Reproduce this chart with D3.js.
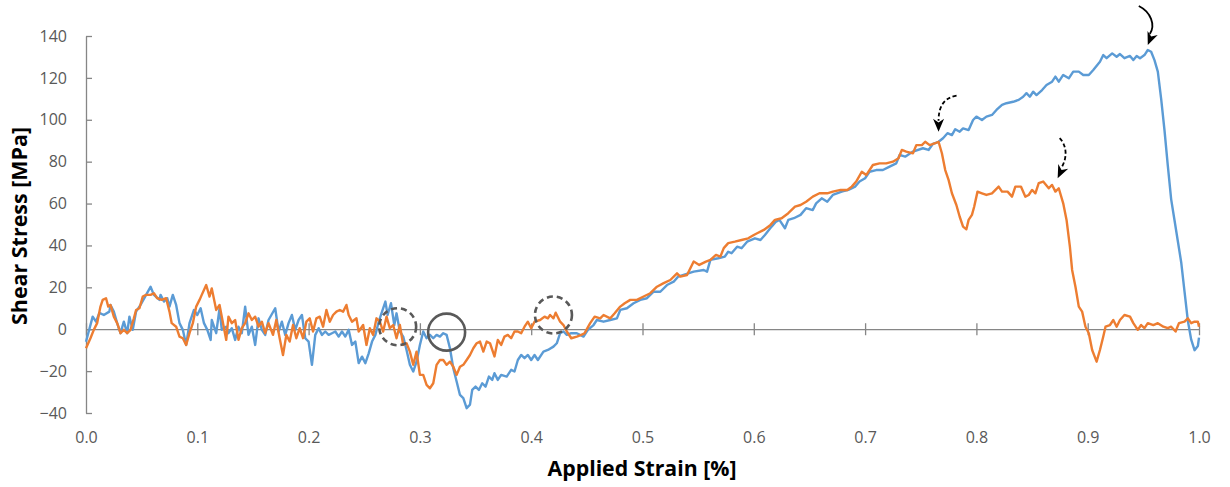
<!DOCTYPE html>
<html><head><meta charset="utf-8">
<script src="https://cdn.jsdelivr.net/npm/d3@7"></script>
<style>body{margin:0;background:#fff}</style>
</head><body>
<script>
// ---------- data ----------
const xTickValues = [0,0.1,0.2,0.3,0.4,0.5,0.6,0.7,0.8,0.9,1.0];
const yTickValues = [-40,-20,0,20,40,60,80,100,120,140];
const xTitle = "Applied Strain [%]";
const yTitle = "Shear Stress [MPa]";

const blueStrain = [0.000,0.006,0.009,0.012,0.016,0.021,0.022,0.025,0.028,0.031,0.034,0.037,0.039,0.042,0.045,0.049,0.054,0.058,0.061,0.066,0.067,0.070,0.073,0.075,0.078,0.081,0.084,0.087,0.090,0.093,0.097,0.100,0.103,0.106,0.109,0.112,0.113,0.117,0.120,0.122,0.126,0.128,0.131,0.134,0.137,0.140,0.143,0.146,0.149,0.152,0.155,0.158,0.161,0.164,0.170,0.173,0.176,0.179,0.182,0.185,0.188,0.191,0.194,0.197,0.200,0.203,0.206,0.209,0.212,0.215,0.218,0.221,0.224,0.227,0.230,0.233,0.236,0.239,0.242,0.245,0.248,0.251,0.254,0.257,0.260,0.263,0.266,0.269,0.271,0.274,0.277,0.279,0.282,0.285,0.288,0.291,0.294,0.297,0.300,0.303,0.306,0.309,0.312,0.315,0.318,0.321,0.324,0.327,0.330,0.333,0.336,0.339,0.342,0.345,0.347,0.350,0.353,0.356,0.359,0.362,0.365,0.367,0.370,0.373,0.378,0.382,0.385,0.388,0.391,0.394,0.397,0.400,0.403,0.406,0.411,0.415,0.420,0.423,0.426,0.429,0.432,0.436,0.441,0.447,0.451,0.456,0.459,0.465,0.471,0.477,0.480,0.486,0.492,0.498,0.504,0.510,0.516,0.522,0.528,0.532,0.546,0.555,0.558,0.561,0.568,0.574,0.577,0.580,0.585,0.589,0.594,0.601,0.606,0.610,0.616,0.620,0.623,0.628,0.631,0.636,0.642,0.647,0.653,0.656,0.661,0.666,0.671,0.679,0.685,0.691,0.695,0.700,0.704,0.710,0.716,0.722,0.728,0.731,0.736,0.743,0.752,0.757,0.761,0.766,0.770,0.774,0.778,0.781,0.785,0.788,0.793,0.797,0.800,0.805,0.809,0.814,0.818,0.823,0.827,0.833,0.838,0.842,0.845,0.848,0.851,0.854,0.859,0.863,0.868,0.871,0.874,0.878,0.883,0.887,0.892,0.896,0.901,0.905,0.911,0.914,0.917,0.922,0.926,0.929,0.933,0.938,0.941,0.944,0.947,0.951,0.954,0.957,0.960,0.963,0.966,0.969,0.972,0.975,0.978,0.981,0.984,0.987,0.990,0.993,0.996,0.999,1.000];
const blueStress = [-6,6,3.6,7.8,6.8,8.4,11.6,8.4,2.9,-1.9,3.6,-1.9,6,-0.3,8.4,11.6,16.4,20.3,16.4,14,16.4,13.2,14.8,10.8,16.4,11.6,2.9,-0.3,-7.5,2.9,9.2,6.8,10,2.9,-0.3,-5.1,4.4,-1.9,10,-0.3,1.2,-1.9,0.5,-5.1,1.2,-1.9,10.8,-2.7,1.2,-7.5,5.2,-0.3,-2.7,4.4,10,-1.1,3.6,-2.7,2.9,6.8,-0.3,4.4,6.8,-4.3,-5.9,-17,-2.7,0.5,-2.7,-1.1,-2.7,-1.9,-1.1,-3.5,-1.1,-3.5,-0.3,-7.5,-5.9,-16.2,-13.1,-16.2,-11.5,-5.9,-2.7,3.6,8.4,13.2,6.8,12.4,2,7.6,-1.1,-3.5,-9.9,-17,-20.2,-15.5,-7.5,-1.1,-4.3,-2.7,-4.3,-2.7,-3.5,-1.9,-2.7,-9.1,-18.6,-25,-31.4,-32.9,-37.7,-36,-29,-27.4,-29,-25.8,-27.4,-22.6,-24.2,-21,-24.2,-21.8,-22.6,-19.4,-20.2,-14.7,-12.3,-13.8,-12.3,-14.7,-12.3,-14.7,-10.7,-9.9,-8.3,-6.7,-1.9,-1.1,-2.7,-1.9,-1.9,-3.5,-0.3,2,4.4,3.6,4.4,5.2,9.2,10,12.4,14,14.8,17.9,17.9,21.1,22.7,25.1,27.5,28.3,27.5,33.1,33.9,34.7,37,36.3,39.4,38.7,41.8,43.4,42.6,45,49,51.4,52.2,48.2,52.2,53,54.6,57.8,56.9,60.1,62.5,60.9,64.1,65.7,66.5,68.1,70.5,72.1,75.2,76,76,77.6,79.2,83.2,82.4,84.8,86.4,85.6,88.5,89.5,91.2,93.6,92.7,95.5,94.3,95.9,95.1,99.9,101.5,99.9,101.5,102.3,104.7,107.1,107.9,108.6,109.5,111,112.7,111,113.4,111.8,114.2,116.6,118.2,120.6,118.2,121.4,119.8,123,123,121.4,121.4,123.8,127.7,130.9,129.4,131.7,130.1,131.4,129.4,130.5,128.5,130.5,129.4,130.9,133.3,132.5,128.5,123,110,95,78,62,52,42,32,18,4,-5,-10,-8,-4];

const orangeStrain = [0.000,0.004,0.007,0.010,0.013,0.015,0.018,0.020,0.022,0.025,0.028,0.031,0.034,0.037,0.040,0.043,0.045,0.048,0.051,0.054,0.058,0.061,0.064,0.068,0.072,0.075,0.077,0.081,0.084,0.087,0.090,0.093,0.096,0.099,0.102,0.104,0.108,0.111,0.113,0.117,0.120,0.122,0.126,0.128,0.131,0.134,0.137,0.140,0.143,0.146,0.149,0.152,0.155,0.158,0.161,0.164,0.168,0.171,0.174,0.177,0.180,0.183,0.186,0.189,0.192,0.195,0.198,0.201,0.204,0.207,0.210,0.213,0.216,0.219,0.222,0.225,0.228,0.231,0.234,0.236,0.239,0.243,0.245,0.249,0.252,0.255,0.258,0.261,0.264,0.267,0.270,0.273,0.276,0.279,0.282,0.285,0.288,0.291,0.294,0.297,0.300,0.303,0.306,0.309,0.312,0.315,0.318,0.321,0.324,0.327,0.330,0.333,0.336,0.339,0.342,0.345,0.348,0.351,0.354,0.357,0.360,0.363,0.367,0.370,0.373,0.376,0.379,0.382,0.385,0.388,0.391,0.394,0.397,0.400,0.403,0.408,0.412,0.415,0.417,0.420,0.422,0.426,0.429,0.432,0.436,0.441,0.445,0.448,0.453,0.457,0.462,0.465,0.471,0.475,0.480,0.484,0.489,0.495,0.501,0.507,0.513,0.519,0.525,0.531,0.534,0.540,0.546,0.551,0.557,0.561,0.566,0.570,0.573,0.577,0.583,0.589,0.595,0.600,0.603,0.609,0.615,0.619,0.625,0.631,0.637,0.642,0.647,0.653,0.659,0.666,0.671,0.678,0.684,0.688,0.692,0.697,0.701,0.707,0.713,0.719,0.725,0.730,0.733,0.737,0.743,0.746,0.751,0.754,0.758,0.763,0.766,0.769,0.772,0.775,0.778,0.782,0.785,0.788,0.791,0.793,0.796,0.798,0.801,0.805,0.809,0.814,0.820,0.823,0.828,0.832,0.835,0.840,0.844,0.847,0.850,0.853,0.856,0.860,0.865,0.868,0.871,0.874,0.878,0.881,0.884,0.886,0.889,0.892,0.895,0.898,0.901,0.904,0.908,0.911,0.914,0.916,0.920,0.923,0.926,0.929,0.933,0.938,0.941,0.945,0.948,0.951,0.954,0.959,0.963,0.968,0.972,0.975,0.979,0.982,0.987,0.990,0.993,0.996,0.999,1.000];
const orangeStress = [-9.1,-4.3,-0.3,2.9,10.8,14,14.8,10.8,11.6,6,2.9,-1.9,-0.3,-1.9,-0.3,5.2,9.2,10,15.6,16.4,16.4,17.2,14.8,14,14.8,8.4,2.9,1.2,-3.5,-4.3,-7.5,-1.9,2.9,10.8,14,16.4,21.1,15.6,19.5,9.2,11.6,6,-5.1,6,2.9,4.4,-5.1,0.5,2.9,7.6,4.4,6,1.2,3.6,-1.9,2.9,-2.7,4.4,-4.3,-12.3,-2.7,-5.9,2,-4.3,0.5,-4.3,3.6,5.2,-1.1,5.2,6,1.2,9.2,3.6,6.8,8.4,9.2,8.4,11.6,6.8,3.6,5.2,-1.1,2,-7.5,0.5,-2.7,5.2,3.6,-1.1,6,0.5,2,-4.3,2,-7.5,-6.7,-10.7,-17,-10.7,-21.8,-21.8,-26.6,-28.2,-25.8,-17,-14.7,-14.7,-17,-15.5,-17.9,-21.8,-17.9,-17,-14.7,-12.3,-9.1,-6.7,-5.9,-10.7,-5.9,-6.7,-13,-5.1,-7.5,-3.5,-2.7,-4.3,-1.1,-1.1,-1.9,1.2,3.6,0.5,3.6,4.4,6,5.2,6.8,5.2,7.9,3.6,2,-1.1,-4.3,-3.5,-2.7,-1.9,2.9,6,5.2,6.8,5.2,7.6,10.8,12.4,14,14,15.6,17.2,20.3,22,23.5,26.7,25.1,25.9,32.3,30.7,32.3,33.1,35.5,34.7,38.7,41.1,41.8,42.6,43.4,45,45.8,47.4,49.8,52.2,53,55.4,58.5,59.3,60.9,63.3,64.9,64.9,65.7,66.5,66.5,68.1,70.5,75.2,73.6,78.4,79.2,79.2,80,81.6,85.6,84.8,84,87.9,87.9,89.5,87.9,88.8,89.5,84,76,71.3,64.9,59.3,53.7,49,47.7,52.2,54.6,58.5,65.7,64.9,64.1,64.9,68.1,65.7,65.7,63.3,68.1,68.1,63.3,64.1,66.5,64.9,69.7,70.5,67.3,68.9,65.7,67.3,60.1,52.2,39.4,28.3,20.3,10.8,8.4,1.2,-1.9,-9.9,-15.5,-9.9,-3.5,1.2,2,4.4,1.2,4.4,6.8,6,2.9,-0.3,2,0.5,2.9,2,2.9,1.2,0.5,1.2,-1.1,2.9,3.6,5.2,2.9,3.6,3.6,1.2];

// annotation anchors (data space)
const circleStrain = [0.280, 0.324, 0.420];
const circleStress = [1.2, -1.4, 6.8];
const circleDashed = [true, false, true];
const arrowStrain = [0.954, 0.766, 0.873];
const arrowStress = [135.7, 94.3, 72.1];
const arrowDashed = [false, true, true];

// ---------- drawing ----------
const W = 1230, H = 487;
const svg = d3.select("body").append("svg").attr("width", W).attr("height", H)
  .style("font-family", "'Open Sans', 'Liberation Sans', sans-serif");

const x = d3.scaleLinear().domain([0, 1]).range([86, 1199]);
const y = d3.scaleLinear().domain([-40, 140]).range([413, 36]);
const axisColor = "#868686";
const labelColor = "#595959";

// Y axis
const yAxis = svg.append("g").attr("transform", `translate(${x(0)},0)`)
  .call(d3.axisLeft(y).tickValues(yTickValues).tickSizeInner(-6).tickSizeOuter(0).tickPadding(19).tickFormat(d3.format("d")));
yAxis.select(".domain").attr("stroke", axisColor).attr("stroke-width", 1.3);
yAxis.selectAll(".tick line").attr("stroke", axisColor).attr("stroke-width", 1.3);
yAxis.selectAll(".tick text").attr("fill", labelColor).style("font-size", "16px").style("font-family", "'Open Sans', sans-serif");

// X axis along y=0 with crossing ticks, labels at bottom
const xAxis = svg.append("g").attr("transform", `translate(0,${y(0)})`)
  .call(d3.axisBottom(x).tickValues(xTickValues).tickSizeInner(6).tickSizeOuter(0).tickPadding(0).tickFormat(d3.format(".1f")));
xAxis.select(".domain").attr("stroke", axisColor).attr("stroke-width", 1.3);
xAxis.selectAll(".tick line").attr("stroke", axisColor).attr("stroke-width", 1.3).attr("y1", -6).attr("y2", 6);
xAxis.selectAll(".tick text").attr("fill", labelColor).style("font-size", "16px")
  .attr("y", 443 - y(0)).attr("dy", 0).style("font-family", "'Open Sans', sans-serif");

// Lines
const blue = blueStrain.map((s, i) => [s, blueStress[i]]);
const orange = orangeStrain.map((s, i) => [s, orangeStress[i]]);
const line = d3.line().x(d => x(d[0])).y(d => y(d[1]));
svg.append("path").datum(blue).attr("d", line).attr("fill", "none")
  .attr("stroke", "#5B9BD5").attr("stroke-width", 2.4).attr("stroke-linejoin", "round");
svg.append("path").datum(orange).attr("d", line).attr("fill", "none")
  .attr("stroke", "#ED7D31").attr("stroke-width", 2.4).attr("stroke-linejoin", "round");

// Circles
circleStrain.forEach((s, i) => {
  svg.append("circle").attr("cx", x(s)).attr("cy", y(circleStress[i])).attr("r", 18.5)
    .attr("fill", "none").attr("stroke", "#595959").attr("stroke-width", 2.6)
    .attr("stroke-dasharray", circleDashed[i] ? "6,4" : null);
});

// Arrows: curve shape offsets (px) relative to tip
const arrowShapes = [
  [[-9, -39], [3, -33], [8, -20], [2, -11]],
  [[18, -36], [6, -34], [0, -26], [0, -11]],
  [[2, -40], [9, -33], [10, -21], [4, -11]]
];
arrowStrain.forEach((s, i) => {
  const tx = x(s), ty = y(arrowStress[i]);
  const p = arrowShapes[i].map(q => [tx + q[0], ty + q[1]]);
  svg.append("path")
    .attr("d", `M${p[0]}C${p[1]} ${p[2]} ${p[3]}`)
    .attr("fill", "none").attr("stroke", "#000").attr("stroke-width", 1.8)
    .attr("stroke-dasharray", arrowDashed[i] ? "4,2.5" : null);
  // arrowhead
  const dx = tx - p[2][0], dy = ty - p[2][1];
  const L = Math.hypot(dx, dy), ux = dx / L, uy = dy / L;
  const len = 13, half = 5.5;
  const bx = tx - ux * len, by = ty - uy * len;
  const nx = -uy, ny = ux;
  const mx = tx - ux * len * 0.7, my = ty - uy * len * 0.7;
  svg.append("path")
    .attr("d", `M${tx},${ty}L${bx + nx * half},${by + ny * half}L${mx},${my}L${bx - nx * half},${by - ny * half}Z`)
    .attr("fill", "#000");
});

// Axis titles
svg.append("text").attr("x", 642).attr("y", 476).attr("text-anchor", "middle")
  .style("font-size", "21px").style("font-weight", "bold").attr("fill", "#000")
  .attr("textLength", 189).attr("lengthAdjust", "spacingAndGlyphs").text(xTitle);
svg.append("text").attr("transform", "translate(27,226) rotate(-90)").attr("text-anchor", "middle")
  .style("font-size", "21px").style("font-weight", "bold").attr("fill", "#000")
  .attr("textLength", 198).attr("lengthAdjust", "spacingAndGlyphs").text(yTitle);
</script>
</body></html>
